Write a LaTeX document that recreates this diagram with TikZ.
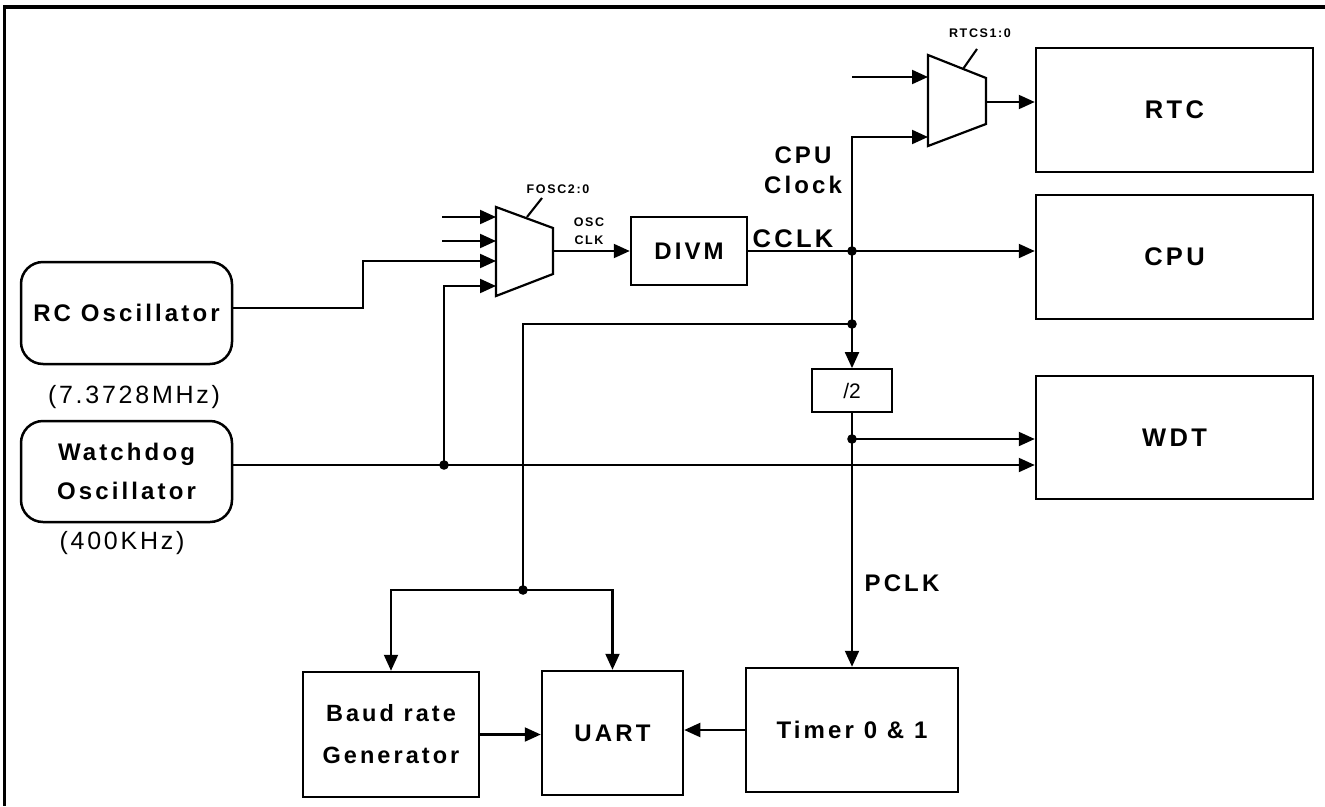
\documentclass[tikz,border=0pt]{standalone}
\usepackage{fontspec}
\setmainfont{Liberation Sans}
\newfontfamily\lsf[LetterSpace=13]{Liberation Sans}
\newfontfamily\lsfs[LetterSpace=11]{Liberation Sans}
\usetikzlibrary{arrows.meta,calc}
\begin{document}
\begin{tikzpicture}[x=1pt,y=-1pt,
  box/.style={draw,line width=2.5pt,inner sep=0pt,align=center},
  con/.style={line width=2.1pt},
  arr/.style={con,-{Triangle[length=16pt,width=14pt]}},
  bigt/.style={font=\lsf\bfseries\fontsize{24}{30}\selectfont},
  hugt/.style={font=\lsf\bfseries\fontsize{25.5}{30}\selectfont},
  smallt/.style={font=\lsf\bfseries\fontsize{12.5}{18}\selectfont,inner sep=0pt,align=center},
  freq/.style={font=\lsfs\fontsize{25}{30}\selectfont,inner sep=0pt},
  muxs/.style={line width=2.2pt,line join=miter}]
\useasboundingbox (0,0) rectangle (1325,806);
% frame
\draw[line width=4pt] (3,7) -- (1325,7);
\draw[line width=3pt] (4,7) -- (4,806);

% oscillators
\node[box,rounded corners=22pt,minimum width=211pt,minimum height=102pt,bigt] (rc) at (126.5,313) {RC Oscillator};
\node[freq] (rcf) at (134,397) {(7.3728MHz)};
\node[box,rounded corners=22pt,minimum width=211pt,minimum height=101pt,font=\lsf\bfseries\fontsize{24}{39}\selectfont] (wd) at (126.5,471.5) {Watchdog\\Oscillator};
\node[freq] (wdf) at (122,543) {(400KHz)};

% mux 1
\coordinate (m1a) at (496,217);
\coordinate (m1b) at (496,241);
\coordinate (m1c) at (496,261);
\coordinate (m1d) at (496,286);
\coordinate (m1o) at (553,251);
\draw[muxs] (496,207) -- (553,228) -- (553,274) -- (496,296) -- cycle;
\coordinate (s1a) at (527,217);
\coordinate (s1b) at (542,198);
\node[smallt] (fosc) at (558,189) {FOSC2:0};
\node[smallt] (osc) at (589,231) {OSC\\CLK};
\coordinate (i1) at (442,217);
\coordinate (i2) at (442,241);

% mux 2
\coordinate (m2a) at (928,77);
\coordinate (m2b) at (928,137);
\coordinate (m2o) at (986,102);
\draw[muxs] (928,55) -- (986,78) -- (986,124) -- (928,146) -- cycle;
\coordinate (s2a) at (963,69);
\coordinate (s2b) at (977,49);
\node[smallt] (rtcs) at (980,33) {RTCS1:0};
\coordinate (i3) at (852,77);

% blocks
\node[box,minimum width=116pt,minimum height=68pt,bigt] (divm) at (689,251) {DIVM};
\node[box,minimum width=277pt,minimum height=124pt,hugt] (rtc) at (1174.5,110) {RTC};
\node[box,minimum width=277pt,minimum height=124pt,hugt] (cpu) at (1174.5,257) {CPU};
\node[box,minimum width=277pt,minimum height=123pt,hugt] (wdt) at (1174.5,437.5) {WDT};
\node[box,line width=1.8pt,minimum width=80pt,minimum height=43pt,font=\fontsize{21}{24}\selectfont] (div2) at (852,390.5) {/2};
\node[box,minimum width=176pt,minimum height=125pt,font=\lsf\bfseries\fontsize{23.5}{42}\selectfont] (baud) at (391,734.5) {Baud rate\\Generator};
\node[box,minimum width=141pt,minimum height=124pt,bigt] (uart) at (612.5,733) {UART};
\node[box,minimum width=212pt,minimum height=124pt,font=\lsf\bfseries\fontsize{24}{30}\selectfont] (timer) at (852,730) {Timer 0 \& 1};

% labels
\node[bigt,align=center,inner sep=0pt] (cpuclk) at (803,170) {CPU\\Clock};
\node[hugt,inner sep=0pt] (cclk) at (793,239) {CCLK};
\node[font=\lsf\bfseries\fontsize{24}{30}\selectfont,inner sep=0pt] (pclk) at (902,583) {PCLK};

% junctions
\coordinate (jA) at (852,251);
\coordinate (jB) at (852,324);
\coordinate (jC) at (852,439);
\coordinate (jD) at (444,465);
\coordinate (jE) at (523,590);

% connectors
\draw[arr] (i1) -- (m1a);
\draw[arr] (i2) -- (m1b);
\draw[arr] ([yshift=5pt]rc.east) -- (363,308) |- (m1c);
\draw[arr] ([yshift=6.5pt]wd.east) -- (wdt.west |- jD);
\draw[arr] (jD) |- (m1d);
\draw[con] (s1a) -- (s1b);
\draw[arr] (m1o) -- (divm.west);
\draw[arr] (divm.east) -- (cpu.west |- jA);
\draw[arr] (jA) |- (m2b);
\draw[arr] (i3) -- (m2a);
\draw[con] (s2a) -- (s2b);
\draw[arr] (m2o) -- (rtc.west |- m2o);
\draw[arr] (jA) -- (div2.north);
\draw[con] (jB) -| (jE);
\draw[arr] (jE) -| (baud.north);
\draw[arr] (jE) -| (uart.north);
\draw[con] (div2.south) -- (jC);
\draw[arr] (jC) -- (timer.north);
\draw[arr] (jC) -- (wdt.west |- jC);
\draw[arr] (baud.east) -- (uart.west |- baud.east);
\draw[arr] (timer.west) -- (uart.east |- timer.west);

\foreach \j in {jA,jB,jC,jD,jE} \fill (\j) circle (4.8pt);
\end{tikzpicture}
\end{document}
